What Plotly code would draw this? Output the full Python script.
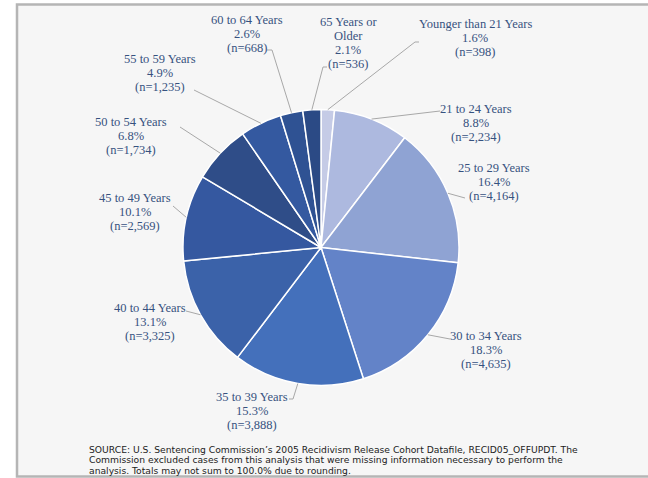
import math
import plotly.graph_objects as go

# ---------------- data ----------------
categories = ["Younger than 21 Years", "21 to 24 Years", "25 to 29 Years", "30 to 34 Years",
              "35 to 39 Years", "40 to 44 Years", "45 to 49 Years", "50 to 54 Years",
              "55 to 59 Years", "60 to 64 Years", "65 Years or Older"]
counts = [398, 2234, 4164, 4635, 3888, 3325, 2569, 1734, 1235, 668, 536]
percents = [1.6, 8.8, 16.4, 18.3, 15.3, 13.1, 10.1, 6.8, 4.9, 2.6, 2.1]
source_lines = [
    "SOURCE: U.S. Sentencing Commission’s 2005 Recidivism Release Cohort Datafile, RECID05_OFFUPDT. The",
    "Commission excluded cases from this analysis that were missing information necessary to perform the",
    "analysis. Totals may not sum to 100.0% due to rounding.",
]

# ---------------- style / layout ----------------
W, H = 648, 478
colors = ["#c5cbe6", "#adb9df", "#8fa3d3", "#6383c8", "#4470bb", "#3b62a9",
          "#3558a0", "#2f4d88", "#3459a0", "#2f5293", "#2b4a85"]
PIE_CX, PIE_CY, PIE_R = 321, 247.5, 138   # pixels
TEXT_COLOR = "#36527f"
LINE_COLOR = "#a8a8a8"
LABEL_FONT = "Liberation Serif"
LINE_H = 14

# label placement (px): (center x, y of first line, leader anchor, optional hook end)
label_layout = [
    (475, 24, (415, 42), (419, 42)),
    (476, 109, (440, 111), None),
    (494, 168, (465, 198), None),
    (486, 336, (450, 339), None),
    (252, 397, (293, 399), (289, 399)),
    (150, 308, (186, 311), None),
    (135, 198, (173, 206), None),
    (131, 122, (180, 127), None),
    (160, 59, (194, 90), None),
    (247, 20, (272, 50), (267, 50)),
    (348, 22, (323, 67), (327, 67)),
]
wrap = {"65 Years or Older": ["65 Years or", "Older"]}


def px(x):
    return x / W


def py(y):
    return 1 - y / H


fig = go.Figure()
fig.add_trace(go.Pie(
    labels=categories, values=counts, sort=False, direction="clockwise", rotation=0,
    marker=dict(colors=colors, line=dict(color="white", width=1.5)),
    textinfo="none", hoverinfo="label+value+percent", showlegend=False,
    domain=dict(x=[px(PIE_CX - PIE_R), px(PIE_CX + PIE_R)],
                y=[py(PIE_CY + PIE_R), py(PIE_CY - PIE_R)]),
))

shapes = [dict(type="rect", xref="paper", yref="paper", x0=px(17), x1=px(W + 20),
               y0=py(476.5), y1=py(4.5), line=dict(color="#b5b5b5", width=2.5),
               fillcolor="#f6f6f6", layer="below")]
annotations = []

total = sum(counts)
cum = 0
for i, cat in enumerate(categories):
    mid = (cum + counts[i] / 2) / total
    cum += counts[i]
    th = 2 * math.pi * mid
    ex = PIE_CX + PIE_R * math.sin(th)
    ey = PIE_CY - PIE_R * math.cos(th)
    cx, y0, anchor, hook = label_layout[i]
    lines = wrap.get(cat, [cat]) + [f"{percents[i]:.1f}%", f"(n={counts[i]:,})"]
    for k, t in enumerate(lines):
        annotations.append(dict(x=px(cx), y=py(y0 + k * LINE_H), xref="paper", yref="paper",
                                text=t, showarrow=False, xanchor="center", yanchor="middle",
                                font=dict(family=LABEL_FONT, size=12.5, color=TEXT_COLOR)))
    shapes.append(dict(type="line", xref="paper", yref="paper",
                       x0=px(anchor[0]), y0=py(anchor[1]), x1=px(ex), y1=py(ey),
                       line=dict(color=LINE_COLOR, width=1)))
    if hook:
        shapes.append(dict(type="line", xref="paper", yref="paper",
                           x0=px(hook[0]), y0=py(hook[1]), x1=px(anchor[0]), y1=py(anchor[1]),
                           line=dict(color=LINE_COLOR, width=1)))

for k, t in enumerate(source_lines):
    annotations.append(dict(x=px(87), y=py(449 + k * 10.8), xref="paper", yref="paper", text=t,
                            showarrow=False, xanchor="left", yanchor="middle", align="left",
                            font=dict(family="DejaVu Sans", size=9.2, color="#222222")))

fig.update_layout(width=W, height=H, margin=dict(l=0, r=0, t=0, b=0),
                  paper_bgcolor="white", plot_bgcolor="white",
                  shapes=shapes, annotations=annotations)
fig.write_html("out.html", config={"displayModeBar": False},
               post_script="document.body.style.margin='0';document.body.style.overflow='hidden';")
